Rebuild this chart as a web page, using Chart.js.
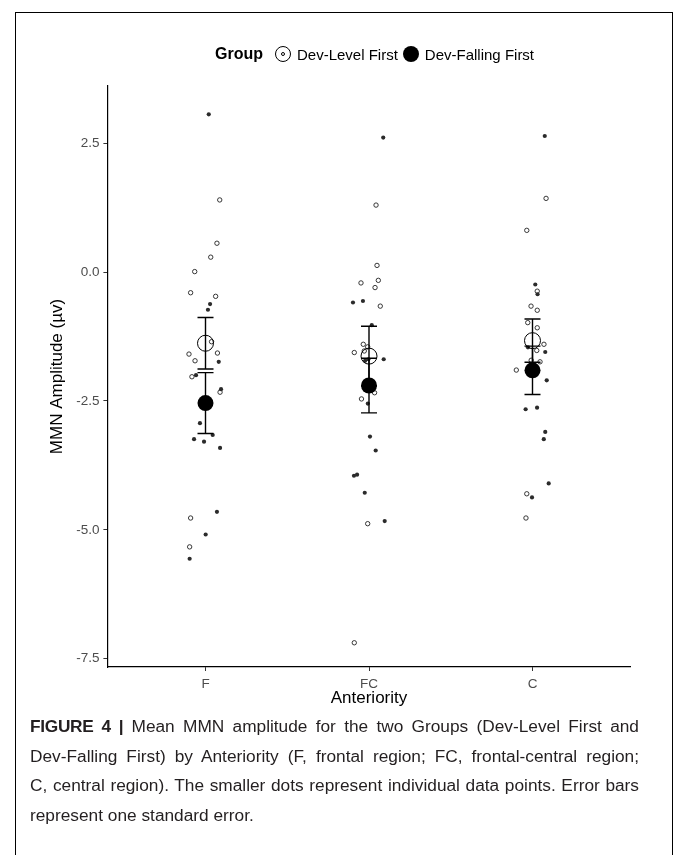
<!DOCTYPE html>
<html>
<head>
<meta charset="utf-8">
<script src="https://cdn.jsdelivr.net/npm/chart.js@4.4.1/dist/chart.umd.min.js"></script>
<style>
  body { margin: 0; background: #fff; width: 674px; height: 855px; overflow: hidden; position: relative;
         font-family: "Liberation Sans", Arial, sans-serif; }
  #frame { position: absolute; left: 15px; top: 12px; width: 656px; height: 900px; border: 1px solid #000; border-bottom: none; }
  #wrap { position: absolute; left: 0; top: 0; width: 674px; height: 720px; }
  #legend { position: absolute; left: 215px; top: 44px; height: 20px; display: flex; align-items: center; white-space: nowrap; }
  #legend .title { font-weight: bold; font-size: 16px; margin-right: 12px; }
  #legend .lab { font-size: 15px; margin-right: 5px; }
  .sym { display: inline-block; box-sizing: border-box; width: 16px; height: 16px; border-radius: 50%; margin-right: 6px; position: relative; }
  .sym.open { border: 1px solid #000; background: #fff; }
  .sym.open::after { content: ""; position: absolute; left: 5px; top: 5px; width: 4px; height: 4px; box-sizing: border-box; border: 1px solid #000; border-radius: 50%; }
  .sym.fill { background: #000; }
  #caption { position: absolute; left: 30px; top: 712px; width: 609px; font-size: 17.3px; line-height: 29.5px; color: #231f20; }
  #caption .line { white-space: nowrap; text-align: justify; text-align-last: justify; }
  #caption .line.last { text-align-last: left; }
  #caption b { letter-spacing: -0.3px; }
</style>
</head>
<body>
<div id="frame"></div>
<div id="wrap"><canvas id="chart" width="674" height="720"></canvas></div>
<div id="legend">
  <span class="title">Group</span>
  <span class="sym open"></span><span class="lab">Dev-Level First</span>
  <span class="sym fill"></span><span class="lab">Dev-Falling First</span>
</div>
<div id="caption">
  <div class="line"><b>FIGURE 4 |</b> Mean MMN amplitude for the two Groups (Dev-Level First and</div>
  <div class="line">Dev-Falling First) by Anteriority (F, frontal region; FC, frontal-central region;</div>
  <div class="line">C, central region). The smaller dots represent individual data points. Error bars</div>
  <div class="line last">represent one standard error.</div>
</div>
<script>
const categories = ["F", "FC", "C"];
const yTicks = [-7.5, -5, -2.5, 0, 2.5];

// individual amplitudes (µV) and horizontal jitter, per group and region
const levelF = [1.40, 0.56, 0.29, 0.01, -0.40, -0.47, -1.35, -1.59, -1.72, -1.57, -2.03, -2.33, -4.77, -5.33];
const levelFJit = [0.087, 0.070, 0.032, -0.066, -0.091, 0.062, 0.037, -0.101, -0.064, 0.073, -0.083, 0.089, -0.091, -0.097];
const levelFC = [1.30, 0.13, -0.21, -0.16, -0.30, -0.66, -1.40, -1.45, -1.53, -1.56, -2.34, -2.46, -4.88, -7.19];
const levelFCJit = [0.043, 0.049, -0.049, 0.057, 0.037, 0.069, -0.035, -0.008, -0.029, -0.090, 0.034, -0.046, -0.008, -0.090];
const levelC = [1.43, 0.81, -0.37, -0.66, -0.74, -0.98, -1.08, -1.40, -1.52, -1.71, -1.74, -1.90, -4.30, -4.77];
const levelCJit = [0.083, -0.035, 0.029, -0.009, 0.029, -0.029, 0.029, 0.070, 0.026, -0.008, 0.046, -0.099, -0.035, -0.040];

const fallingF = [3.06, -0.62, -0.73, -1.74, -2.00, -2.27, -2.93, -3.24, -3.29, -3.16, -3.41, -4.65, -5.09, -5.56];
const fallingFJit = [0.020, 0.028, 0.015, 0.081, -0.058, 0.095, -0.034, -0.070, -0.009, 0.044, 0.089, 0.070, 0.001, -0.097];
const fallingFC = [2.61, -0.56, -0.59, -1.03, -1.69, -1.69, -1.72, -2.55, -3.19, -3.46, -3.95, -3.93, -4.28, -4.83];
const fallingFCJit = [0.087, -0.037, -0.098, 0.017, 0.090, -0.004, -0.024, -0.007, 0.006, 0.041, -0.092, -0.073, -0.026, 0.096];
const fallingC = [2.64, -0.24, -0.43, -1.46, -1.55, -1.82, -1.98, -2.10, -2.66, -2.63, -3.10, -3.24, -4.10, -4.37];
const fallingCJit = [0.075, 0.017, 0.031, -0.028, 0.078, -0.015, 0.010, 0.087, -0.042, 0.028, 0.078, 0.069, 0.099, -0.003];

// group means and standard errors by region (F, FC, C)
const levelMean = [-1.38, -1.63, -1.33];
const levelSE = [0.50, 0.58, 0.42];
const fallingMean = [-2.54, -2.20, -1.905];
const fallingSE = [0.59, 0.53, 0.47];

const toPoints = (groups) => {
  const pts = [];
  groups.forEach(([vals, jit], i) => {
    vals.forEach((v, k) => pts.push({ x: i + 1 + jit[k], y: v }));
  });
  return pts;
};

const levelPoints = toPoints([[levelF, levelFJit], [levelFC, levelFCJit], [levelC, levelCJit]]);
const fallingPoints = toPoints([[fallingF, fallingFJit], [fallingFC, fallingFCJit], [fallingC, fallingCJit]]);
const meanPoints = (means, se) => means.map((m, i) => ({ x: i + 1, y: m, se: se[i] }));

// error bars drawn through the chart scales
const errorBars = {
  id: "errorBars",
  afterDatasetsDraw(chart) {
    const { ctx, scales: { x, y } } = chart;
    ctx.save();
    ctx.strokeStyle = "#000";
    ctx.lineWidth = 1.4;
    [2, 3].forEach((di) => {
      chart.data.datasets[di].data.forEach((p) => {
        const px = x.getPixelForValue(p.x);
        const top = y.getPixelForValue(p.y + p.se);
        const bot = y.getPixelForValue(p.y - p.se);
        ctx.beginPath();
        ctx.moveTo(px, top); ctx.lineTo(px, bot);
        ctx.moveTo(px - 8, top); ctx.lineTo(px + 8, top);
        ctx.moveTo(px - 8, bot); ctx.lineTo(px + 8, bot);
        ctx.stroke();
      });
    });
    ctx.restore();
  },
};

new Chart(document.getElementById("chart"), {
  type: "scatter",
  data: {
    datasets: [
      { label: "Dev-Level First", data: levelPoints, order: 3, pointRadius: 2.2, pointBackgroundColor: "#fff",
        pointBorderColor: "#222", pointBorderWidth: 0.9 },
      { label: "Dev-Falling First", data: fallingPoints, order: 2, pointRadius: 2.1, pointBackgroundColor: "#2b2b2b",
        pointBorderColor: "#2b2b2b", pointBorderWidth: 0 },
      { label: "Dev-Level First mean", data: meanPoints(levelMean, levelSE), order: 1, pointRadius: 8,
        pointBackgroundColor: "rgba(0,0,0,0)", pointBorderColor: "#000", pointBorderWidth: 1 },
      { label: "Dev-Falling First mean", data: meanPoints(fallingMean, fallingSE), order: 0, pointRadius: 8,
        pointBackgroundColor: "#000", pointBorderColor: "#000", pointBorderWidth: 0 },
    ],
  },
  options: {
    responsive: false,
    animation: false,
    clip: false,
    layout: { padding: { left: 40, top: 86, right: 43.4, bottom: 0 } },
    plugins: { legend: { display: false }, tooltip: { enabled: false } },
    scales: {
      x: {
        type: "linear",
        min: 0.4,
        max: 3.6,
        afterBuildTicks: (s) => { s.ticks = categories.map((c, i) => ({ value: i + 1 })); },
        afterFit: (s) => { s.height = 53; },
        ticks: { callback: (v) => categories[v - 1], color: "#4d4d4d", font: { size: 13.5, family: "Liberation Sans" }, padding: 5 },
        grid: { drawOnChartArea: false, drawTicks: true, tickLength: 4, color: "#333" },
        border: { display: true, color: "#000", width: 1.2 },
        title: { display: true, text: "Anteriority", color: "#000", font: { size: 17, family: "Liberation Sans" }, padding: { top: 0, bottom: 11 } },
      },
      y: {
        min: -7.66,
        max: 3.61,
        afterBuildTicks: (s) => { s.ticks = yTicks.map((v) => ({ value: v })); },
        afterFit: (s) => { s.width = 67.4; },
        ticks: { callback: (v) => v.toFixed(1), color: "#4d4d4d", font: { size: 13.5, family: "Liberation Sans" }, padding: 4 },
        grid: { drawOnChartArea: false, drawTicks: true, tickLength: 4, color: "#333" },
        border: { display: true, color: "#000", width: 1.2 },
        title: { display: true, text: "MMN Amplitude (µv)", color: "#000", font: { size: 17, family: "Liberation Sans" }, padding: { top: 7, bottom: 0 } },
      },
    },
  },
  plugins: [errorBars],
});
</script>
</body>
</html>
